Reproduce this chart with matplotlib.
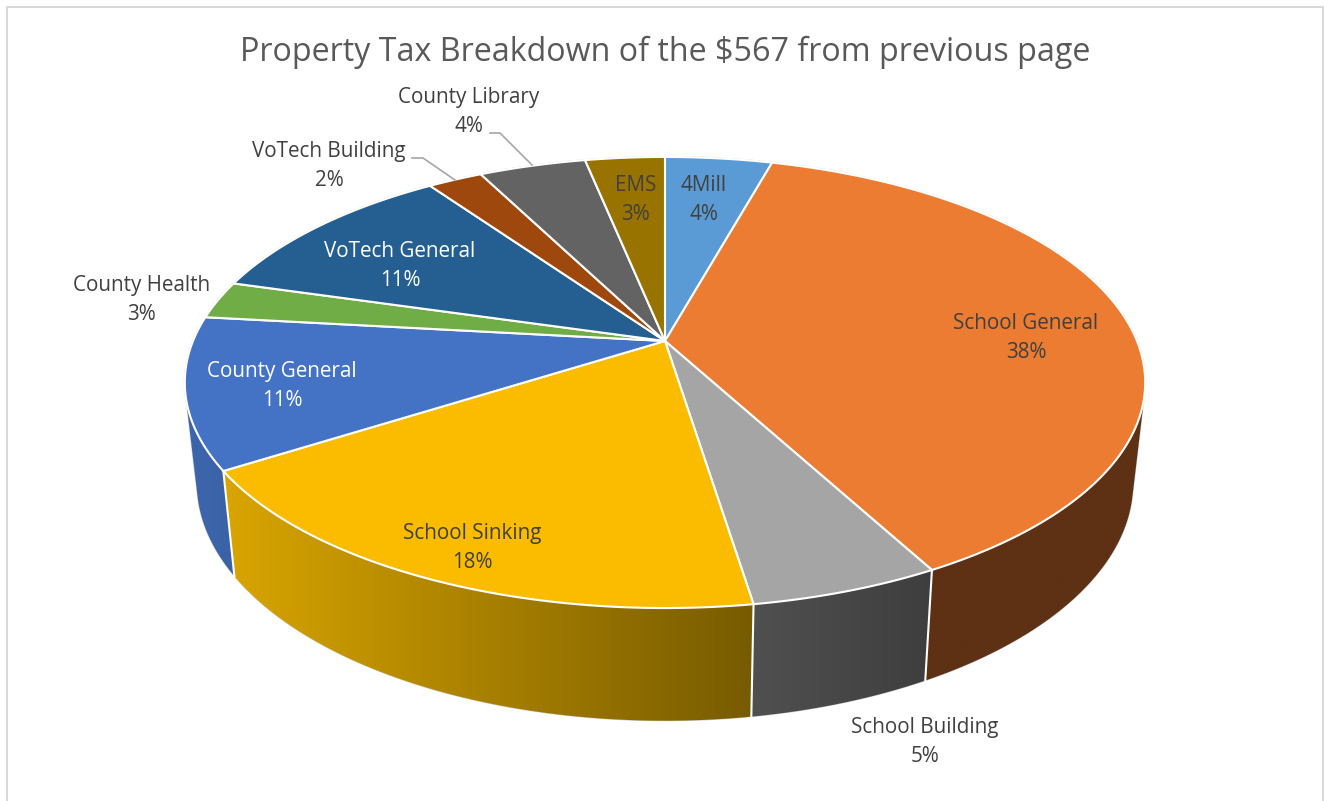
import numpy as np
from matplotlib import pyplot as plt
from matplotlib.colors import to_rgb
from matplotlib.patches import Polygon

plt.rcParams['font.family'] = ['Open Sans', 'DejaVu Sans']

title = 'Property Tax Breakdown of the $567 from previous page'
names = ['4Mill', 'School General', 'School Building', 'School Sinking', 'County General',
         'County Health', 'VoTech General', 'VoTech Building', 'County Library', 'EMS']
shares = [4.3, 37.8, 5.4, 18.4, 10.8, 2.7, 10.8, 2.2, 4.3, 3.2]
colors = ['#5b9bd5', '#eb7c32', '#a5a5a5', '#fbbc00', '#4472c4',
          '#70ad47', '#255e91', '#9e480e', '#636363', '#997300']
# wall colour, left end and right end of the gradient
wall_left = ['#3f75a8', '#5e3014', '#505050', '#d9a500', '#3c66ad',
             '#4e7a32', '#1a4266', '#6e320a', '#454545', '#6b5000']
wall_right = ['#3f75a8', '#5e3014', '#3e3e3e', '#775b00', '#3a62a6',
              '#4e7a32', '#1a4266', '#6e320a', '#454545', '#6b5000']
label_pos = [(704, 200), (1026, 338), (925, 742), (472, 548), (282, 386),
             (142, 300), (400, 266), (329, 166), (469, 112), (636, 200)]
label_color = ['#404040', '#404040', '#404040', '#404040', 'white',
               '#404040', 'white', '#404040', '#404040', '#404040']
leaders = {7: [(412, 158), (423, 158), (455, 180)],
           8: [(490, 133), (500, 133), (532, 165)]}

# perspective of the disc, in pixels
cx, cy = 665, 341
rx, ry, k = 472, 217.9, 0.184
bottom_cy, bottom_sx, bottom_sy = 439, 0.975, 1.055


def top_rim(angle):
    u, v = np.sin(angle), np.cos(angle)
    w = 1 + k * v
    return cx + rx * u / w, cy - ry * v / w


def bottom_rim(angle):
    x, y = top_rim(angle)
    return cx + (x - cx) * bottom_sx, bottom_cy + (y - cy) * bottom_sy


fig = plt.figure(figsize=(13.24, 8.01), dpi=100)
ax = fig.add_axes([0, 0, 1, 1])
ax.axis('off')

# chart frame
ax.plot([6.5, 6.5, 1323, 1323], [801, 6.5, 6.5, 801], color='#d9d9d9', lw=1.5, zorder=1)

edges = np.radians(np.cumsum([0] + shares) / sum(shares) * 360)

# walls: only the part of the rim that faces the viewer
for i in range(len(shares)):
    a = np.linspace(edges[i], edges[i + 1], 300)
    xt, yt = top_rim(a)
    xb, yb = bottom_rim(a)
    facing = np.gradient(xt) * (yb - yt) - np.gradient(yt) * (xb - xt) < 0
    if facing.sum() < 2:
        continue
    px = np.r_[xt[facing], xb[facing][::-1]]
    py = np.r_[yt[facing], yb[facing][::-1]]
    shape = Polygon(np.c_[px, py], closed=True, facecolor='none', edgecolor='#d0d0d0', lw=0.8, zorder=3)
    ax.add_patch(shape)
    c0, c1 = np.array(to_rgb(wall_left[i])), np.array(to_rgb(wall_right[i]))
    ramp = c0 + (c1 - c0) * np.linspace(0, 1, 256)[:, None]
    img = ax.imshow(ramp[None, :, :], extent=(px.min(), px.max(), py.max(), py.min()),
                    aspect='auto', interpolation='bilinear', zorder=3.5)
    img.set_clip_path(shape)

# white lines between the visible walls
for e in edges:
    if np.cos(e) < -0.3:
        xt, yt = top_rim(e)
        xb, yb = bottom_rim(e)
        ax.plot([xt, xb], [yt, yb], color='white', lw=1.5, zorder=4)

# thin outline round the top
a = np.linspace(0, 2 * np.pi, 720)
xt, yt = top_rim(a)
ax.plot(xt, yt, color='#d0d0d0', lw=1.4, zorder=3)

# top face
for i in range(len(shares)):
    a = np.linspace(edges[i], edges[i + 1], 120)
    xt, yt = top_rim(a)
    ax.fill(np.r_[cx, xt], np.r_[cy, yt], facecolor=colors[i], edgecolor='white',
            lw=1.5, joinstyle='miter', zorder=5)

for i, name in enumerate(names):
    x, y = label_pos[i]
    ax.text(x, y, '%s\n%d%%' % (name, round(shares[i])), color=label_color[i], fontsize=14.9,
            ha='center', va='center', linespacing=1.45, zorder=7)

for i, pts in leaders.items():
    ax.plot(*zip(*pts), color='#a6a6a6', lw=1.2, zorder=6)

ax.text(665, 52, title, color='#595959', fontsize=23.2, ha='center', va='center', zorder=7)

ax.set_xlim(0, 1324)
ax.set_ylim(801, 0)
fig.savefig('out.png', dpi=100)
